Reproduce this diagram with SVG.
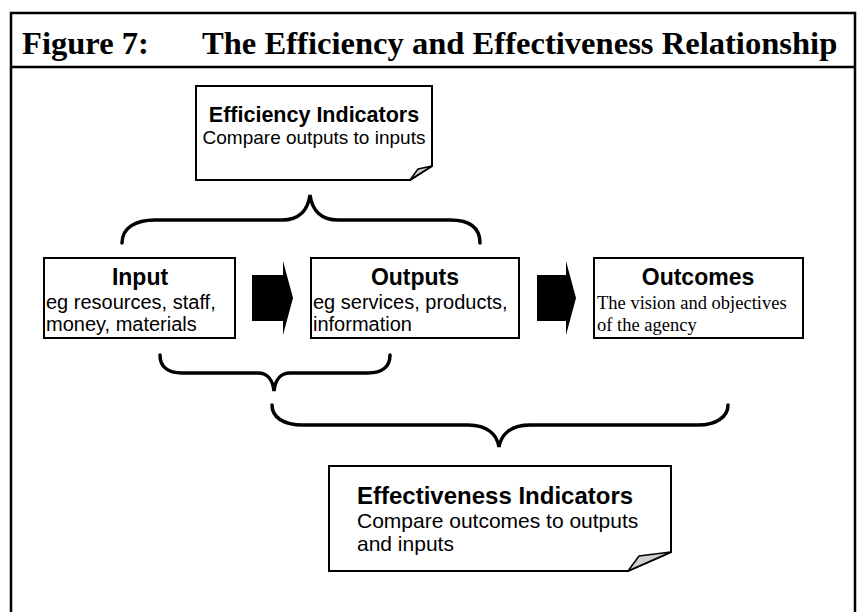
<svg xmlns="http://www.w3.org/2000/svg" width="858" height="612" viewBox="0 0 858 612">
<style>
.frame{fill:none;stroke:#000;stroke-width:2.5}
.box{fill:#fff;stroke:#000;stroke-width:2}
.fold{fill:#d0d0d0;stroke:#000;stroke-width:1.5;stroke-linejoin:round}
.brace{fill:none;stroke:#000;stroke-width:3.5;stroke-linecap:round}
.arrow{fill:#000}
.title{font-family:"Liberation Serif","Times New Roman",serif;font-weight:bold;font-size:32.6px;fill:#000}
.h{font-family:"Liberation Sans",Arial,sans-serif;font-weight:bold;font-size:23px;fill:#000}
.h1{font-family:"Liberation Sans",Arial,sans-serif;font-weight:bold;font-size:21.5px;fill:#000}
.h2{font-family:"Liberation Sans",Arial,sans-serif;font-weight:bold;font-size:24px;fill:#000}
.b{font-family:"Liberation Sans",Arial,sans-serif;font-size:20px;fill:#000}
.b1{font-family:"Liberation Sans",Arial,sans-serif;font-size:19px;fill:#000}
.b2{font-family:"Liberation Sans",Arial,sans-serif;font-size:21px;fill:#000}
.t{font-family:"Liberation Serif","Times New Roman",serif;font-size:18.5px;fill:#000}
</style>
<rect width="858" height="612" fill="#fff"/>
<g id="frame">
<path class="frame" d="M11,612 L11,13 L855,13 L855,612 M11,67 L855,67"/>
<text class="title" x="22" y="54">Figure 7:</text>
<text class="title" x="202" y="54">The Efficiency and Effectiveness Relationship</text>
</g>
<g id="efficiency">
<path class="box" d="M196,86 L432,86 L432,166 L410,180 L196,180 Z"/>
<path class="fold" d="M410,180 L418,169 L432,166 Z"/>
<text class="h1" x="314" y="122" text-anchor="middle">Efficiency Indicators</text>
<text class="b1" x="314" y="144" text-anchor="middle">Compare outputs to inputs</text>
</g>
<g id="input">
<rect class="box" x="44" y="258" width="191" height="80"/>
<text class="h" x="140" y="285" text-anchor="middle">Input</text>
<text class="b" x="46" y="309">eg resources, staff,</text>
<text class="b" x="46" y="331">money, materials</text>
</g>
<g id="outputs">
<rect class="box" x="311" y="258" width="208" height="80"/>
<text class="h" x="415" y="285" text-anchor="middle">Outputs</text>
<text class="b" x="313" y="309">eg services, products,</text>
<text class="b" x="313" y="331">information</text>
</g>
<g id="outcomes">
<rect class="box" x="594" y="258" width="209" height="80"/>
<text class="h" x="698" y="285" text-anchor="middle">Outcomes</text>
<text class="t" x="597" y="309">The vision and objectives</text>
<text class="t" x="597" y="331">of the agency</text>
</g>
<g id="effectiveness">
<path class="box" d="M329,466 L671,466 L671,552 L628,571 L329,571 Z"/>
<path class="fold" d="M628,571 L639,556 L671,552 Z"/>
<text class="h2" x="357" y="504">Effectiveness Indicators</text>
<text class="b2" x="357" y="528">Compare outcomes to outputs</text>
<text class="b2" x="357" y="551">and inputs</text>
</g>
<g id="connectors">
<path class="arrow" d="M252,275 L283,275 L283,261 L293,298 L283,335 L283,321 L252,321 Z"/>
<path class="arrow" d="M537,275 L566,275 L566,261 L576,298 L566,335 L566,321 L537,321 Z"/>
<path class="brace" d="M122,243 C122,228 135,220 155,220 L282,220 C299,220 308,210 310,195 C312,210 321,220 338,220 L450,220 C470,220 480,228 480,243"/>
<path class="brace" d="M160,355 C160,367 168,373 182,373 L258,373 C268,373 273,381 274,391 C275,381 280,373 290,373 L368,373 C382,373 390,367 390,355"/>
<path class="brace" d="M272,405 C272,417 283,425 303,425 L468,425 C488,425 497,435 499,447 C501,435 510,425 530,425 L698,425 C716,425 728,417 728,405"/>
</g>
</svg>
